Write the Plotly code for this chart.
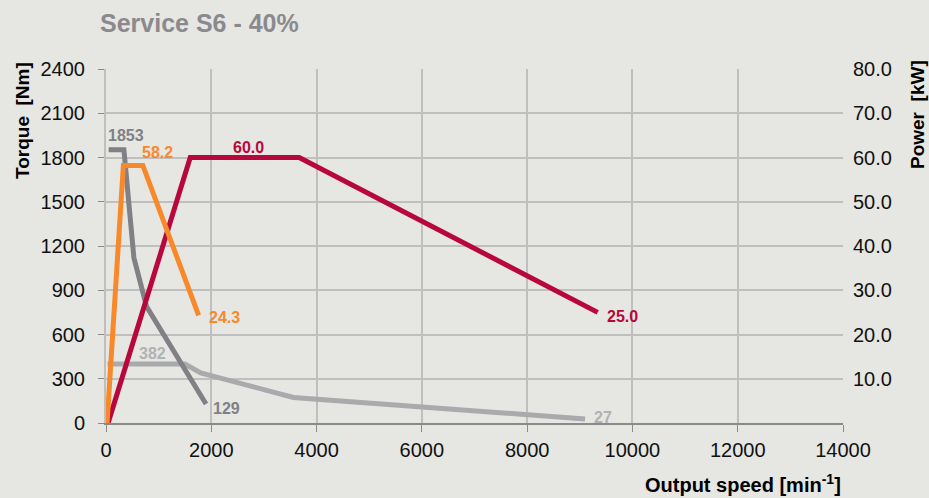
import plotly.graph_objects as go

# ---- data ----
torque_a_speed = [50, 340, 530, 770, 1900]
torque_a_value = [1853, 1853, 1120, 790, 129]

torque_b_speed = [30, 1500, 1800, 3560, 9100]
torque_b_value = [400, 400, 340, 173, 27]

power_a_speed = [20, 330, 700, 1760]
power_a_value = [0, 58.2, 58.2, 24.3]

power_b_speed = [40, 1600, 3670, 9340]
power_b_value = [0, 60.0, 60.0, 25.0]

x_ticks = [0, 2000, 4000, 6000, 8000, 10000, 12000, 14000]
y_ticks = [0, 300, 600, 900, 1200, 1500, 1800, 2100, 2400]
y2_ticks = [10, 20, 30, 40, 50, 60, 70, 80]

C_DARK = "#808085"
C_LIGHT = "#a8aaac"
C_ORANGE = "#f7892b"
C_RED = "#b8073c"
BG = "#e6e6e2"
GRID = "#bfbfbf"
FONT = "Liberation Sans, Arial, sans-serif"

fig = go.Figure()
fig.add_trace(go.Scatter(x=torque_b_speed, y=torque_b_value, mode="lines",
                         line=dict(color=C_LIGHT, width=5), yaxis="y", cliponaxis=False))
fig.add_trace(go.Scatter(x=torque_a_speed, y=torque_a_value, mode="lines",
                         line=dict(color=C_DARK, width=5), yaxis="y", cliponaxis=False))
fig.add_trace(go.Scatter(x=power_b_speed, y=power_b_value, mode="lines",
                         line=dict(color=C_RED, width=5), yaxis="y2", cliponaxis=False))
fig.add_trace(go.Scatter(x=power_a_speed, y=power_a_value, mode="lines",
                         line=dict(color=C_ORANGE, width=5), yaxis="y2", cliponaxis=False))

def lab(text, x, y, color, yref, xshift, yshift, xanchor="left"):
    return dict(text=text, x=x, y=y, xref="x", yref=yref, showarrow=False,
                xanchor=xanchor, yanchor="middle", xshift=xshift, yshift=yshift,
                font=dict(family=FONT, size=16, color=color, weight="bold"))

ann = [
    lab(f"{torque_a_value[0]}", torque_a_speed[0], torque_a_value[0], C_DARK, "y", -3, 14),
    lab(f"{torque_a_value[-1]}", torque_a_speed[-1], torque_a_value[-1], C_DARK, "y", 5, -5),
    lab("382", torque_b_speed[0], torque_b_value[0], "#b0b2b4", "y", 29, 11),
    lab(f"{torque_b_value[-1]}", torque_b_speed[-1], torque_b_value[-1], "#b0b2b4", "y", 7, 2),
    lab(f"{power_a_value[1]:.1f}", power_a_speed[2], power_a_value[2], C_ORANGE, "y2", -3, 13),
    lab(f"{power_a_value[-1]:.1f}", power_a_speed[-1], power_a_value[-1], C_ORANGE, "y2", 8, -2),
    lab(f"{power_b_value[1]:.1f}", power_b_speed[1], power_b_value[1], C_RED, "y2", 58, 10, "center"),
    lab(f"{power_b_value[-1]:.1f}", power_b_speed[-1], power_b_value[-1], C_RED, "y2", 7, -4),
    dict(text="Output speed [min<sup>-1</sup>]", x=1, y=0, xref="paper", yref="paper",
         xanchor="right", yanchor="middle", yshift=-60, showarrow=False,
         font=dict(family=FONT, size=20, color="#000000", weight="bold")),
    dict(text="Torque  [Nm]", x=0, y=(423 - 121) / 354, xref="paper", yref="paper",
         xanchor="center", yanchor="middle", xshift=-84, textangle=-90, showarrow=False,
         font=dict(family=FONT, size=19, color="#000000", weight="bold")),
    dict(text="Power  [kW]", x=1, y=(423 - 115) / 354, xref="paper", yref="paper",
         xanchor="center", yanchor="middle", xshift=74, textangle=-90, showarrow=False,
         font=dict(family=FONT, size=19, color="#000000", weight="bold")),
]

fig.update_layout(
    width=929, height=498,
    margin=dict(l=106, r=86, t=69, b=75),
    paper_bgcolor=BG, plot_bgcolor=BG,
    showlegend=False,
    title=dict(text="Service S6 - 40%", xref="container", yref="container",
               x=100 / 929, xanchor="left", y=1 - 23 / 498, yanchor="middle",
               font=dict(family=FONT, size=25, color="#8a8a8e", weight="bold")),
    annotations=ann,
    xaxis=dict(range=[0, 14000], tickvals=x_ticks, ticktext=[str(v) for v in x_ticks],
               showgrid=True, gridcolor=GRID, gridwidth=2, zeroline=False,
               showline=True, linecolor="#8a8a8a", linewidth=2,
               ticks="outside", ticklen=7, tickcolor="#8a8a8a", tickwidth=1,
               tickfont=dict(family=FONT, size=20, color="#111111"),
               ticklabelstandoff=1),
    yaxis=dict(range=[0, 2400], tickvals=y_ticks, ticktext=[str(v) for v in y_ticks],
               showgrid=True, gridcolor=GRID, gridwidth=2, zeroline=False,
               showline=True, linecolor=GRID, linewidth=2,
               ticks="outside", ticklen=6, tickcolor="#8a8a8a", tickwidth=1,
               tickfont=dict(family=FONT, size=20, color="#111111"),
               ticklabelstandoff=9),
    yaxis2=dict(range=[0, 80], overlaying="y", side="right", tickvals=y2_ticks,
                ticktext=[f"{v:.1f}" for v in y2_ticks],
                showgrid=False, zeroline=False, showline=False, ticks="",
                tickfont=dict(family=FONT, size=20, color="#111111"),
                ticklabelstandoff=9),
)

fig.write_html("out.html",
               config={"displayModeBar": False},
               post_script="document.body.style.margin='0';document.body.style.background='" + BG + "';")
